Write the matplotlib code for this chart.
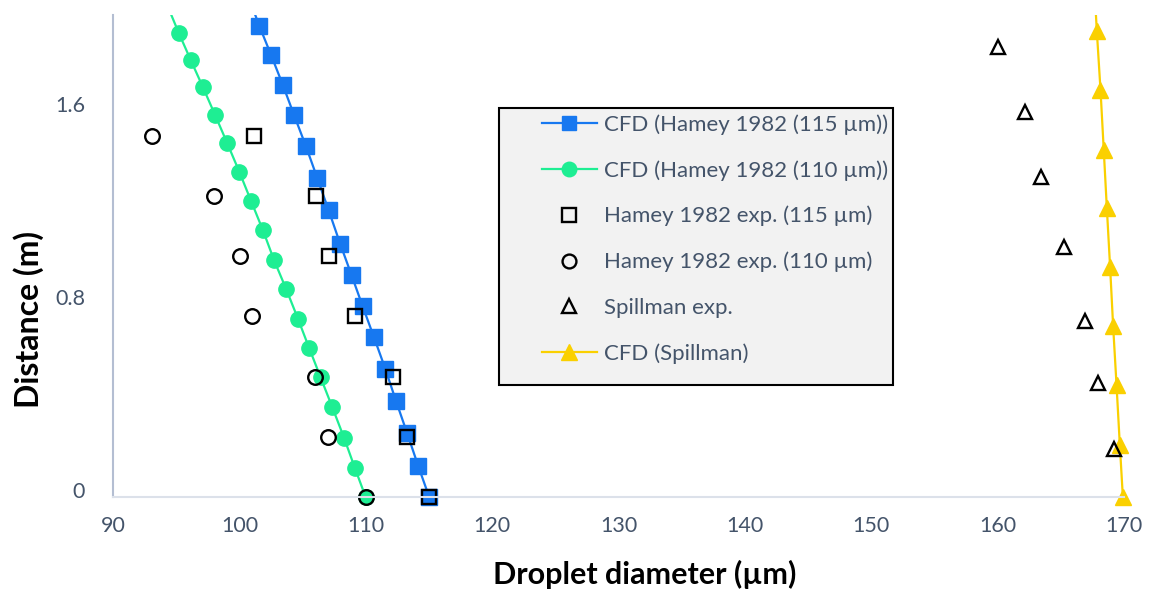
import numpy as np
import matplotlib
matplotlib.use('Agg')
import matplotlib.pyplot as plt
import matplotlib.transforms as mtransforms
from matplotlib.patches import Rectangle
from matplotlib.lines import Line2D

plt.rcParams['font.family'] = ['Lato', 'DejaVu Sans']

# CFD (Hamey 1982, 115 um) - last point lies above the visible range
cfd115_x = [115.02, 114.15, 113.28, 112.39, 111.54, 110.65, 109.75, 108.88,
            107.98, 107.07, 106.16, 105.27, 104.34, 103.43, 102.50, 101.57, 100.64]
cfd115_y = [0.0, 0.129, 0.264, 0.399, 0.533, 0.663, 0.792, 0.920,
            1.050, 1.189, 1.324, 1.455, 1.583, 1.711, 1.835, 1.956, 2.087]

# CFD (Hamey 1982, 110 um)
cfd110_x = [109.99, 109.15, 108.28, 107.35, 106.43, 105.53, 104.64, 103.71, 102.75,
            101.87, 100.92, 99.99, 99.04, 98.07, 97.12, 96.15, 95.20, 94.25]
cfd110_y = [0.0, 0.119, 0.246, 0.373, 0.496, 0.617, 0.739, 0.862, 0.982,
            1.106, 1.229, 1.350, 1.468, 1.586, 1.700, 1.813, 1.926, 2.046]

# Hamey 1982 experiments
exp115_x = [115.02, 113.24, 112.18, 109.12, 107.11, 106.06, 101.15]
exp110_x = [109.99, 107.01, 105.98, 100.97, 100.07, 97.99, 93.11]
exp_y = [0.0, 0.25, 0.5, 0.75, 1.0, 1.25, 1.5]

# Spillman experiment
spill_exp_x = [169.19, 167.98, 166.92, 165.26, 163.42, 162.13, 160.04]
spill_exp_y = [0.198, 0.474, 0.731, 1.037, 1.328, 1.597, 1.867]

# CFD (Spillman)
spill_cfd_x = [169.91, 169.67, 169.41, 169.14, 168.90, 168.64, 168.40, 168.14, 167.85, 167.60]
spill_cfd_y = [0.0, 0.216, 0.464, 0.709, 0.955, 1.201, 1.438, 1.690, 1.933, 2.17]

blue = '#1778F0'
green = '#1EEE93'
yellow = '#FAD000'
txt = '#44546A'

fig = plt.figure(figsize=(11.57, 5.91), dpi=100)
ax = fig.add_axes([113 / 1157, 94 / 591, 1011 / 1157, 482 / 591])

l_b, = ax.plot(cfd115_x, cfd115_y, color=blue, lw=1.6, marker='s', ms=11,
               mfc=blue, mec=blue, label='CFD (Hamey 1982 (115 µm))')
l_g, = ax.plot(cfd110_x, cfd110_y, color=green, lw=1.6, marker='o', ms=11,
               mfc=green, mec=green, label='CFD (Hamey 1982 (110 µm))')
l_y, = ax.plot(spill_cfd_x, spill_cfd_y, color=yellow, lw=1.6, marker='^', ms=11.5,
               mfc=yellow, mec=yellow, label='CFD (Spillman)')
l_es, = ax.plot(exp115_x, exp_y, ls='none', marker='s', ms=10.5, mfc='none',
                mec='black', mew=1.7, label='Hamey 1982 exp. (115 µm)')
l_ec, = ax.plot(exp110_x, exp_y, ls='none', marker='o', ms=10.5, mfc='none',
                mec='black', mew=1.7, label='Hamey 1982 exp. (110 µm)')
l_et, = ax.plot(spill_exp_x, spill_exp_y, ls='none', marker='^', ms=10.5, mfc='none',
                mec='black', mew=1.7, label='Spillman exp.')

# clip at the top only, so edge markers stay whole
clip = Rectangle((-0.05, -0.1), 1.1, 1.1, transform=ax.transAxes)
for ln in [l_b, l_g, l_y, l_es, l_ec, l_et]:
    ln.set_clip_path(clip)

ax.set_xlim(90, 170)
ax.set_ylim(0, 2.0)
ax.set_xticks(np.arange(90, 171, 10))
ax.set_yticks([0, 0.8, 1.6])
ax.set_yticklabels(['0', '0.8', '1.6'])
ax.tick_params(length=0, labelsize=15.5, labelcolor=txt)
ax.tick_params(axis='y', pad=20)
ax.tick_params(axis='x', pad=14)
off = mtransforms.ScaledTranslation(0, 7 / 100, fig.dpi_scale_trans)
for lab in ax.get_yticklabels():
    lab.set_transform(lab.get_transform() + off)

for s in ['top', 'right']:
    ax.spines[s].set_visible(False)
ax.spines['left'].set_color('#B4BED2')
ax.spines['left'].set_linewidth(1.5)
ax.spines['bottom'].set_color('#DCE1EA')
ax.spines['bottom'].set_linewidth(1.5)

fig.text(645 / 1157, 1 - 574 / 591, 'Droplet diameter (µm)', ha='center', va='center',
         fontsize=22, fontweight='bold', color='black')
fig.text(29 / 1157, 1 - 320 / 591, 'Distance (m)', ha='center', va='center',
         rotation=90, fontsize=23, fontweight='bold', color='black')

# legend box drawn by hand so the padding matches
box = Rectangle(((499 - 113) / 1011, (497 - 385) / 482), 394 / 1011, 277 / 482,
                transform=ax.transAxes, facecolor='#F2F2F2', edgecolor='black',
                lw=1.5, zorder=4)
ax.add_patch(box)

handles = [l_b, l_g, l_es, l_ec, l_et, l_y]
leg_handles = []
for h in handles:
    leg_handles.append(Line2D([], [], color=h.get_color(), ls=h.get_linestyle(),
                              lw=h.get_linewidth(), marker=h.get_marker(),
                              ms=h.get_markersize() * 0.95, mfc=h.get_markerfacecolor(),
                              mec=h.get_markeredgecolor(), mew=h.get_markeredgewidth()))
leg = ax.legend(leg_handles, [h.get_label() for h in handles], loc='upper left',
                bbox_to_anchor=((542 - 113) / 1011, (497 - 114) / 482),
                frameon=False, fontsize=16, labelcolor=txt, handlelength=2.46,
                handletextpad=0.31, labelspacing=1.14, borderpad=0, borderaxespad=0)
leg.set_zorder(5)

fig.savefig('out.png', dpi=100)
